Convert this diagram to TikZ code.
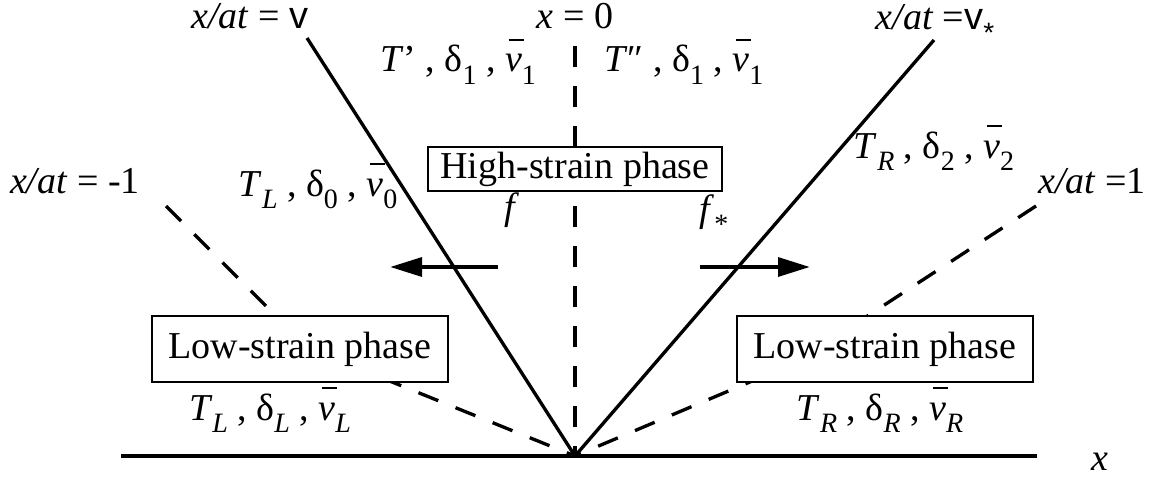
\documentclass[tikz,border=0pt]{standalone}
\usepackage{fontspec}
\setmainfont{Liberation Serif}
\newfontfamily\sv{Liberation Sans}
\usetikzlibrary{arrows.meta}
\newcommand{\sbs}[1]{\raisebox{-0.33em}{\fontsize{21}{21}\selectfont #1}}
\newcommand{\vb}{\ooalign{\textit{v}\cr\hidewidth\kern0.14em\rule[0.82em]{0.4em}{0.045em}\hidewidth\cr}}
\begin{document}
\begin{tikzpicture}[x=0.75pt,y=-0.75pt,
  font=\fontsize{28.5}{34}\selectfont,
  lab/.style={inner sep=0pt, anchor=base},
  solidln/.style={line width=2.5pt},
  axisln/.style={line width=3.6pt},
  dashln/.style={line width=2.5pt, dash pattern=on 16pt off 14pt},
  phasehi/.style={draw, line width=1.3pt, fill=white, inner sep=0pt, minimum width=220pt, minimum height=33pt},
  phaselo/.style={draw, line width=1.3pt, fill=white, inner sep=0pt, minimum width=222pt, minimum height=50pt},
  farrow/.style={line width=3.2pt, -{Triangle[length=24pt,width=14pt]}}]
\useasboundingbox (0,0) rectangle (1166,478);
% coordinates
\coordinate (O) at (575,456);
\coordinate (axL) at (121,456);
\coordinate (axR) at (1037,456);
\coordinate (vtop) at (307,38);
\coordinate (vstop) at (934,40);
\coordinate (ztop) at (575,46);
\coordinate (mtop) at (166,206);
\coordinate (mbend) at (308,348);
\coordinate (ptop) at (1036,206);
\coordinate (pbend) at (797,362);
\coordinate (fLs) at (498,267);
\coordinate (fLe) at (390,267);
\coordinate (fRs) at (700,267);
\coordinate (fRe) at (810,267);
% lines
\draw[axisln] (axL) -- (axR);
\draw[solidln] (O) -- (vtop);
\draw[solidln] (O) -- (vstop);
\draw[dashln] (ztop) -- (O);
\draw[dashln] (mtop) -- (mbend) -- (O);
\draw[dashln] (ptop) -- (pbend) -- (O);
\draw[farrow] (fLs) -- (fLe);
\draw[farrow] (fRs) -- (fRe);
% boxes
\node[phasehi] (hi) at (575,169) {High-strain phase};
\node[phaselo] (loL) at (300,349) {Low-strain phase};
\node[phaselo] (loR) at (885,349) {Low-strain phase};
% labels
\node[lab] (lv) at (250,29) {\textit{x/at} = {\sv v}};
\node[lab] (lz) at (575,29) {\textit{x} = 0};
\node[lab] (lvs) at (935,30) {\textit{x/at} ={\sv v}\sbs{\sv *}};
\node[lab] (lm1) at (75,193) {\textit{x/at} = -1};
\node[lab] (lp1) at (1092,193) {\textit{x/at} =1};
\node[lab] (s1) at (458,72) {\textit{T}’ , δ\sbs{1} , \vb\sbs{1}};
\node[lab] (s2) at (684,72) {\textit{T}″ , δ\sbs{1} , \vb\sbs{1}};
\node[lab] (s3) at (934,158) {\textit{T}\sbs{\textit{R}} , δ\sbs{2} , \vb\sbs{2}};
\node[lab] (s4) at (318,196) {\textit{T}\sbs{\textit{L}} , δ\sbs{0} , \vb\sbs{0}};
\node[lab] (s5) at (270,420) {\textit{T}\sbs{\textit{L}} , δ\sbs{\textit{L}} , \vb\sbs{\textit{L}}};
\node[lab] (s6) at (880,420) {\textit{T}\sbs{\textit{R}} , δ\sbs{\textit{R}} , \vb\sbs{\textit{R}}};
\node[lab] (lf) at (512,219) {\textit{f}};
\node[lab] (lfs) at (714,221) {\textit{f}\sbs{*}};
\node[lab] (lx) at (1100,470) {\textit{x}};
\end{tikzpicture}
\end{document}
